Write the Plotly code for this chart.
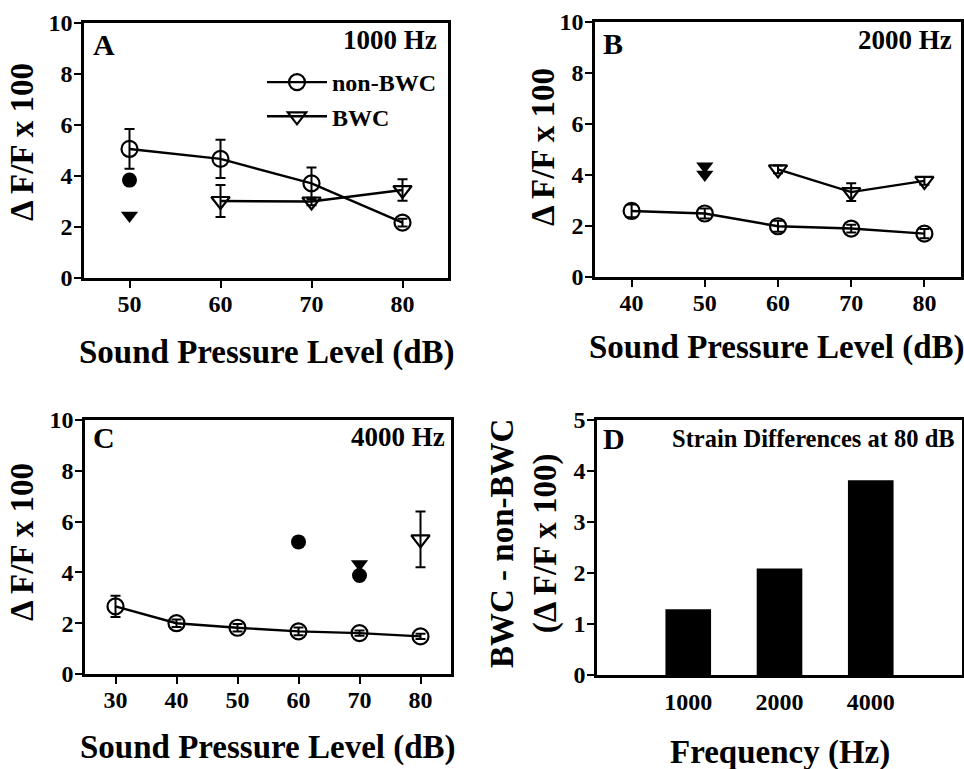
import plotly.graph_objects as go

# ---------------- data ----------------
# Panel A, 1000 Hz
a_spl = [50, 60, 70, 80]
a_non = [5.06, 4.67, 3.71, 2.17]
a_non_err = [0.78, 0.75, 0.62, 0.15]
a_bwc_spl = [60, 70, 80]
a_bwc = [3.02, 3.00, 3.45]
a_bwc_err = [0.63, 0.15, 0.42]
a_fill_circ_spl = [50]
a_fill_circ = [3.84]
a_fill_tri_spl = [50]
a_fill_tri = [2.45]

# Panel B, 2000 Hz
b_spl = [40, 50, 60, 70, 80]
b_non = [2.59, 2.49, 1.99, 1.90, 1.70]
b_non_err = [0.25, 0.20, 0.22, 0.15, 0.18]
b_bwc_spl = [60, 70, 80]
b_bwc = [4.22, 3.33, 3.77]
b_bwc_err = [0.15, 0.35, 0.15]
b_fill_tri_spl = [50, 50]
b_fill_tri = [4.34, 4.02]

# Panel C, 4000 Hz
c_spl = [30, 40, 50, 60, 70, 80]
c_non = [2.66, 2.00, 1.82, 1.68, 1.61, 1.48]
c_non_err = [0.42, 0.15, 0.15, 0.15, 0.10, 0.10]
c_bwc_spl = [80]
c_bwc = [5.30]
c_bwc_err = [1.10]
c_fill_circ_spl = [60, 70]
c_fill_circ = [5.20, 3.88]
c_fill_tri_spl = [70]
c_fill_tri = [4.33]

# Panel D, strain differences at 80 dB
d_freq = ["1000", "2000", "4000"]
d_diff = [1.29, 2.09, 3.82]

# ---------------- layout helpers ----------------
W, H = 964, 769
FONT = "Liberation Serif"


def px_x(p):
    return p / W


def px_y(p):
    return 1 - p / H


def font(size):
    return dict(family=FONT, size=size, color="black", weight="bold")


fig = go.Figure()

LINE = dict(color="black", width=2.4)
ERR = dict(color="black", thickness=2, width=5)


def open_series(xa, ya, x, y, err, symbol, name, showlegend):
    fig.add_trace(go.Scatter(
        x=x, y=y, xaxis=xa, yaxis=ya, mode="lines+markers", name=name,
        showlegend=showlegend,
        line=LINE,
        marker=dict(symbol=symbol, size=16, color="black",
                    line=dict(color="black", width=2.2)),
        error_y=dict(type="data", array=err, visible=True, **ERR),
    ))


def filled(xa, ya, x, y, symbol):
    fig.add_trace(go.Scatter(
        x=x, y=y, xaxis=xa, yaxis=ya, mode="markers", showlegend=False,
        marker=dict(symbol=symbol, size=15, color="black",
                    line=dict(color="black", width=0)),
    ))


# Panel A
open_series("x", "y", a_spl, a_non, a_non_err, "circle-open", "non-BWC", True)
open_series("x", "y", a_bwc_spl, a_bwc, a_bwc_err, "triangle-down-open", "BWC", True)
filled("x", "y", a_fill_circ_spl, a_fill_circ, "circle")
filled("x", "y", a_fill_tri_spl, a_fill_tri, "triangle-down")

# Panel B
open_series("x2", "y2", b_spl, b_non, b_non_err, "circle-open", "non-BWC", False)
open_series("x2", "y2", b_bwc_spl, b_bwc, b_bwc_err, "triangle-down-open", "BWC", False)
filled("x2", "y2", b_fill_tri_spl, b_fill_tri, "triangle-down")

# Panel C
open_series("x3", "y3", c_spl, c_non, c_non_err, "circle-open", "non-BWC", False)
open_series("x3", "y3", c_bwc_spl, c_bwc, c_bwc_err, "triangle-down-open", "BWC", False)
filled("x3", "y3", c_fill_circ_spl, c_fill_circ, "circle")
filled("x3", "y3", c_fill_tri_spl, c_fill_tri, "triangle-down")

# Panel D
fig.add_trace(go.Bar(
    x=d_freq, y=d_diff, xaxis="x4", yaxis="y4", showlegend=False,
    marker=dict(color="black", line=dict(width=0)), width=0.5,
))

axis_common = dict(
    showline=True, linecolor="black", linewidth=2.5, mirror=True,
    ticks="outside", ticklen=7, tickwidth=2, tickcolor="black",
    showgrid=False, zeroline=False, tickfont=font(24),
    automargin=False,
)
xax = dict(axis_common, ticklabelstandoff=-5)
yax = dict(axis_common, ticklabelstandoff=-3)

fig.update_layout(
    template="none",
    width=W, height=H, margin=dict(l=0, r=0, t=0, b=0, pad=0),
    paper_bgcolor="white", plot_bgcolor="white",
    font=font(22),
    xaxis=dict(domain=[px_x(84), px_x(448)], range=[45, 85], tickvals=[50, 60, 70, 80],
               anchor="y", **xax),
    yaxis=dict(domain=[px_y(278), px_y(23)], range=[0, 10], tickvals=[0, 2, 4, 6, 8, 10],
               anchor="x", **yax),
    xaxis2=dict(domain=[px_x(595), px_x(961)], range=[35, 85], tickvals=[40, 50, 60, 70, 80],
                anchor="y2", **xax),
    yaxis2=dict(domain=[px_y(277), px_y(22)], range=[0, 10], tickvals=[0, 2, 4, 6, 8, 10],
                anchor="x2", **yax),
    xaxis3=dict(domain=[px_x(85), px_x(451)], range=[25, 85], tickvals=[30, 40, 50, 60, 70, 80],
                anchor="y3", **xax),
    yaxis3=dict(domain=[px_y(674), px_y(420)], range=[0, 10], tickvals=[0, 2, 4, 6, 8, 10],
                anchor="x3", **yax),
    xaxis4=dict(domain=[px_x(597), px_x(962)], range=[-1, 3], type="category",
                anchor="y4", **{**axis_common, "ticks": "", "ticklabelstandoff": 3}),
    yaxis4=dict(domain=[px_y(675), px_y(420)], range=[0, 5], tickvals=[0, 1, 2, 3, 4, 5],
                anchor="x4", **yax),
    legend=dict(x=px_x(262), y=px_y(60), xanchor="left", yanchor="top",
                bgcolor="rgba(0,0,0,0)", font=font(24), tracegroupgap=0,
                itemwidth=60),
    bargap=0.5,
)

ann = []


def text(x, y, s, size, xanchor="center", yanchor="middle", angle=0):
    ann.append(dict(x=px_x(x), y=px_y(y), xref="paper", yref="paper", text=s,
                    showarrow=False, font=font(size), xanchor=xanchor,
                    yanchor=yanchor, textangle=angle))


# Panel letters and frequency labels
text(91, 44, "A", 30, xanchor="left")
text(439, 40, "1000 Hz", 27, xanchor="right")
text(601, 43, "B", 30, xanchor="left")
text(954, 40, "2000 Hz", 27, xanchor="right")
text(91, 437, "C", 30, xanchor="left")
text(447, 437, "4000 Hz", 27, xanchor="right")
text(601, 438, "D", 30, xanchor="left")
text(957, 439, "Strain Differences at 80 dB", 24.5, xanchor="right")

# Axis titles
text(267, 352, "Sound Pressure Level (dB)", 33)
text(777, 347, "Sound Pressure Level (dB)", 33)
text(268, 747, "Sound Pressure Level (dB)", 33)
text(780, 752, "Frequency (Hz)", 33)
text(22, 142, "\u0394 F/F x 100", 33, angle=-90)
text(543, 147, "\u0394 F/F x 100", 33, angle=-90)
text(22, 542, "\u0394 F/F x 100", 33, angle=-90)
text(524, 544, "BWC - non-BWC<br>(\u0394 F/F x 100)", 33, angle=-90)

fig.update_layout(annotations=ann)

fig.write_html("out.html", config={"displayModeBar": False},
               post_script="document.body.style.margin='0px';")
